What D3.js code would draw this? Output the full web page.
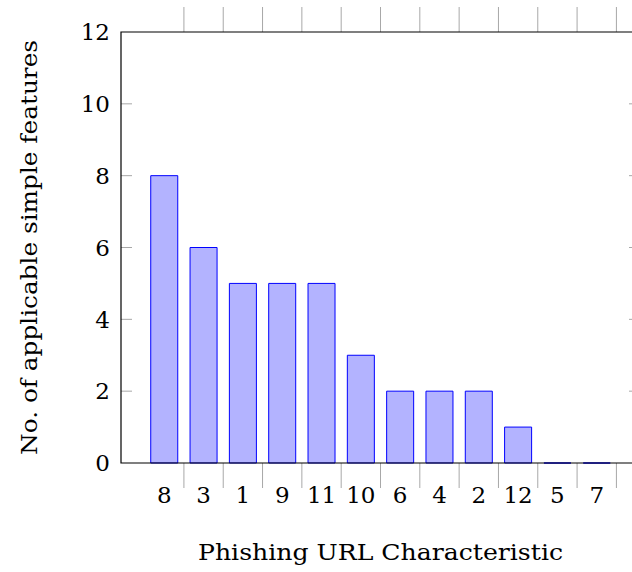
<!DOCTYPE html>
<html>
<head>
<meta charset="utf-8">
<script src="https://cdn.jsdelivr.net/npm/d3@7"></script>
<style>
  body { margin: 0; background: #fff; }
  svg { display: block; font-family: "DejaVu Serif", serif; }
</style>
</head>
<body>
<svg width="632" height="572"></svg>
<script>
var categories = ["8", "3", "1", "9", "11", "10", "6", "4", "2", "12", "5", "7"];
var counts = [8, 6, 5, 5, 5, 3, 2, 2, 2, 1, 0, 0];
var yTicks = [0, 2, 4, 6, 8, 10, 12];

var svg = d3.select("svg")
var mLeft = 121, mRight = 640, mTop = 32, mBottom = 463;

var x = d3.scaleLinear().domain([-1.1, categories.length + 0.1]).range([mLeft, mRight]);
var y = d3.scaleLinear().domain([0, 12]).range([mBottom, mTop]);
var barW = 0.687;

var tickColor = "#a8a8a8";
var fontSize = 23;

// bars (path so zero bars still show as a line)
svg.selectAll("path.bar")
    .data(counts)
    .enter()
  .append("path")
    .attr("class", "bar")
    .attr("d", function(d, i) {
      var x0 = x(i - barW / 2), x1 = x(i + barW / 2);
      return "M" + x0 + "," + y(0) + "H" + x1 + "V" + y(d) + "H" + x0 + "Z";
    })
    .style("fill", "#b3b3ff")
    .style("stroke", "#0000ff")
    .style("stroke-width", 1);

// category separators, top and bottom, outward
var seps = d3.range(categories.length).map(function(i) { return i + 0.5; });
svg.selectAll("line.sepTop")
    .data(seps)
    .enter()
  .append("line")
    .attr("class", "sepTop")
    .attr("x1", function(d) { return x(d); })
    .attr("x2", function(d) { return x(d); })
    .attr("y1", mTop - 25)
    .attr("y2", mTop)
    .style("stroke", tickColor)
    .style("stroke-width", 1);
svg.selectAll("line.sepBot")
    .data(seps)
    .enter()
  .append("line")
    .attr("class", "sepBot")
    .attr("x1", function(d) { return x(d); })
    .attr("x2", function(d) { return x(d); })
    .attr("y1", mBottom)
    .attr("y2", mBottom + 25)
    .style("stroke", tickColor)
    .style("stroke-width", 1);

// y ticks, inward on both sides
yTicks.slice(1, -1).forEach(function(t) {
  svg.append("line")
      .attr("x1", mLeft).attr("x2", mLeft + 11)
      .attr("y1", y(t)).attr("y2", y(t))
      .style("stroke", tickColor);
  svg.append("line")
      .attr("x1", mRight - 11).attr("x2", mRight)
      .attr("y1", y(t)).attr("y2", y(t))
      .style("stroke", tickColor);
})

// axis frame
svg.append("path")
    .attr("d", "M" + mRight + "," + mTop + "H" + mLeft + "V" + mBottom + "H" + mRight)
    .style("fill", "none")
    .style("stroke", "#000")
    .style("stroke-width", 1.2);

// tick labels
svg.selectAll("text.ylab")
    .data(yTicks)
    .enter()
  .append("text")
    .attr("class", "ylab")
    .attr("x", 110)
    .attr("y", function(d) { return y(d); })
    .attr("dy", "0.36em")
    .attr("text-anchor", "end")
    .style("font-size", fontSize + "px")
    .text(function(d) { return d; });

svg.selectAll("text.xlab")
    .data(categories)
    .enter()
  .append("text")
    .attr("class", "xlab")
    .attr("x", function(d, i) { return x(i); })
    .attr("y", 503)
    .attr("text-anchor", "middle")
    .style("font-size", fontSize + "px")
    .text(function(d) { return d; });

// axis titles
svg.append("text")
    .attr("x", (mLeft + mRight) / 2)
    .attr("y", 560)
    .attr("text-anchor", "middle")
    .attr("textLength", 365)
    .attr("lengthAdjust", "spacingAndGlyphs")
    .style("font-size", "23px")
    .text("Phishing URL Characteristic");

svg.append("text")
    .attr("transform", "translate(37," + ((mTop + mBottom) / 2) + ") rotate(-90)")
    .attr("text-anchor", "middle")
    .attr("textLength", 415)
    .attr("lengthAdjust", "spacingAndGlyphs")
    .style("font-size", "23px")
    .text("No. of applicable simple features");
</script>
</body>
</html>
